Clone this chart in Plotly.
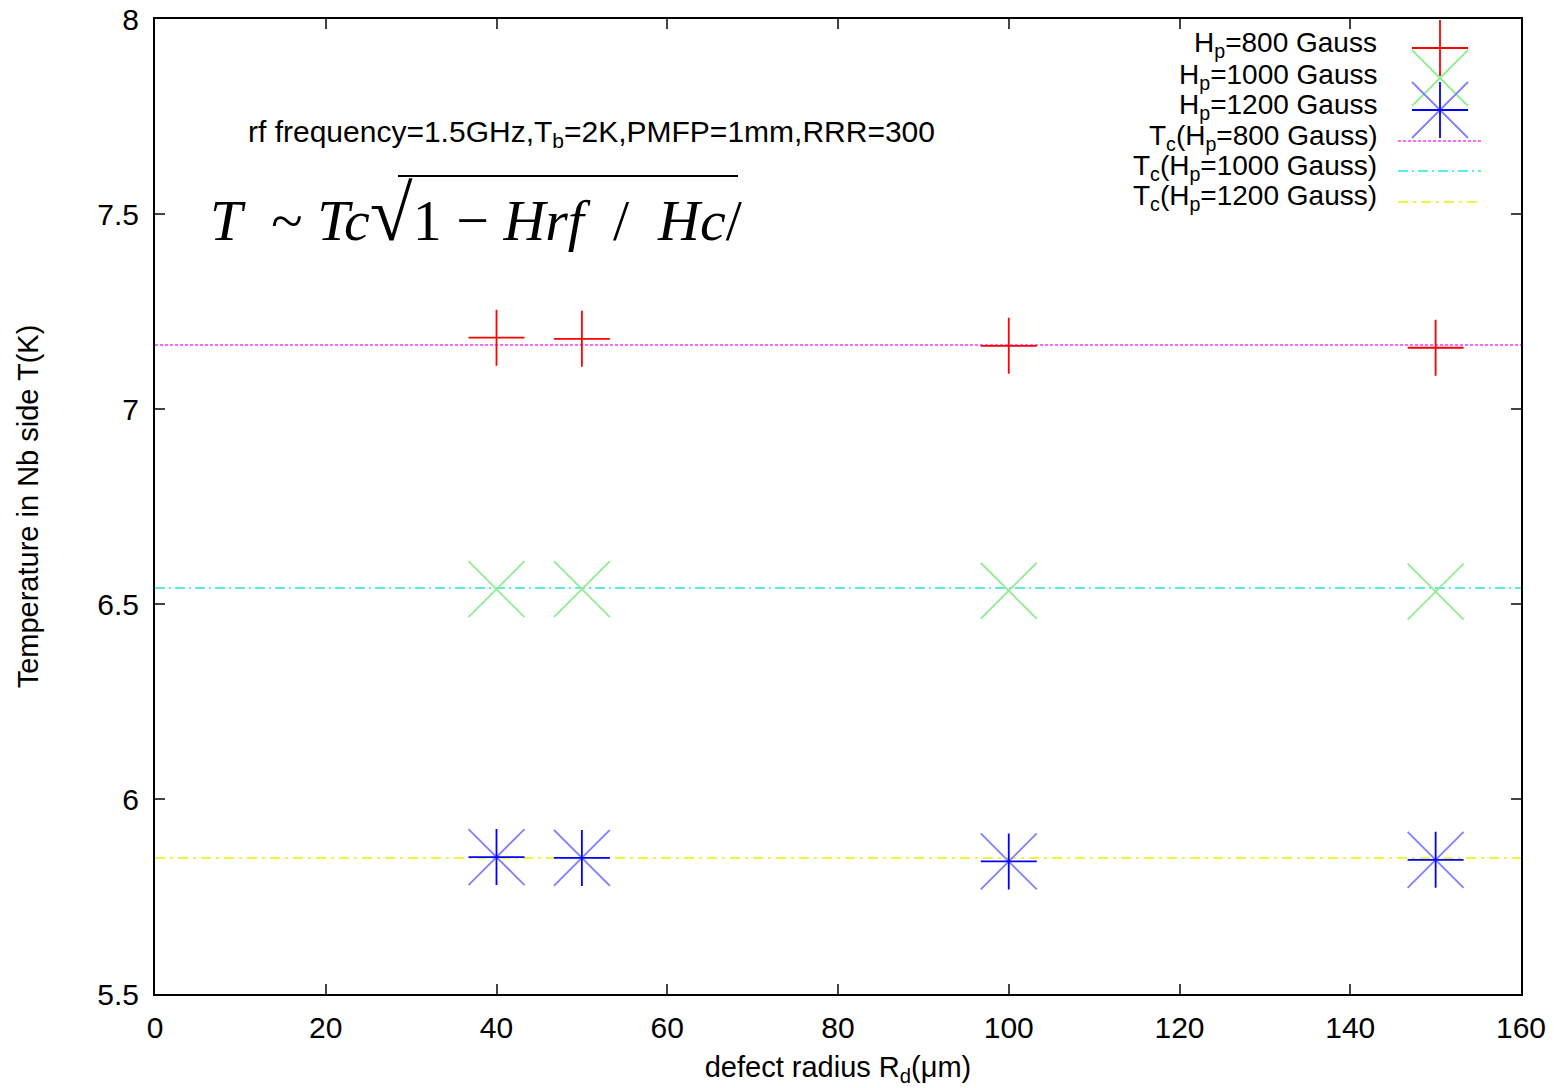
import plotly.graph_objects as go

# ---- data ----
radius = [40, 50, 100, 150]
t_800 = [7.183, 7.180, 7.162, 7.157]
t_1000 = [6.538, 6.538, 6.534, 6.532]
t_1200 = [5.851, 5.849, 5.840, 5.844]
tc_800 = 7.164
tc_1000 = 6.541
tc_1200 = 5.849
x_range = [0, 160]
y_range = [5.5, 8]
x_ticks = [0, 20, 40, 60, 80, 100, 120, 140, 160]
y_ticks = [5.5, 6, 6.5, 7, 7.5, 8]

W, H = 1559, 1088
L, R, T, B = 155, 38, 19, 94
PW, PH = W - L - R, H - T - B


def px(x):
    return (x - L) / PW


def py(y):
    return (H - B - y) / PH


FONT = "Liberation Sans, Arial, sans-serif"

fig = go.Figure()

# Tc lines
fig.add_trace(go.Scatter(x=x_range, y=[tc_800, tc_800], mode="lines",
                         line=dict(color="#ff33ff", width=1.5, dash="3px,2px"), hoverinfo="skip"))
fig.add_trace(go.Scatter(x=x_range, y=[tc_1000, tc_1000], mode="lines",
                         line=dict(color="#22e6e6", width=1.5, dash="10px,4px,2px,4px"), hoverinfo="skip"))
fig.add_trace(go.Scatter(x=x_range, y=[tc_1200, tc_1200], mode="lines",
                         line=dict(color="#f0f000", width=1.5, dash="10px,5px,3px,5px"), hoverinfo="skip"))

# points
fig.add_trace(go.Scatter(x=radius, y=t_800, mode="markers",
                         marker=dict(symbol="cross-thin", size=40, line=dict(color="#ff0000", width=1.8))))
fig.add_trace(go.Scatter(x=radius, y=t_1000, mode="markers",
                         marker=dict(symbol="x-thin", size=56, line=dict(color="#90ee90", width=1.8))))
fig.add_trace(go.Scatter(x=radius, y=t_1200, mode="markers",
                         marker=dict(symbol="x-thin", size=56, line=dict(color="#8080ff", width=1.8))))
fig.add_trace(go.Scatter(x=radius, y=t_1200, mode="markers",
                         marker=dict(symbol="cross-thin", size=40, line=dict(color="#0000ff", width=1.8))))

shapes = []
annotations = []

# manual legend (gnuplot style: text right-aligned, sample to the right)
legend_texts = [
    "H<sub>p</sub>=800 Gauss",
    "H<sub>p</sub>=1000 Gauss",
    "H<sub>p</sub>=1200 Gauss",
    "T<sub>c</sub>(H<sub>p</sub>=800 Gauss)",
    "T<sub>c</sub>(H<sub>p</sub>=1000 Gauss)",
    "T<sub>c</sub>(H<sub>p</sub>=1200 Gauss)",
]
row_y = [45, 76, 106, 137, 168, 198]
for txt, yy in zip(legend_texts, row_y):
    annotations.append(dict(x=px(1379), y=py(yy), xref="paper", yref="paper", text=txt,
                            showarrow=False, xanchor="right", yanchor="middle",
                            font=dict(family=FONT, size=28, color="black")))


def seg(x0, y0, x1, y1, color, width=1.8, dash="solid"):
    shapes.append(dict(type="line", xref="paper", yref="paper", x0=px(x0), y0=py(y0),
                       x1=px(x1), y1=py(y1), line=dict(color=color, width=width, dash=dash)))


cx = 1440
# red +
seg(cx - 28, 48, cx + 28, 48, "#ff0000"); seg(cx, 20, cx, 76, "#ff0000")
# green x
seg(cx - 28, 50, cx + 28, 106, "#90ee90"); seg(cx - 28, 106, cx + 28, 50, "#90ee90")
# blue star
seg(cx - 28, 82, cx + 28, 138, "#8080ff"); seg(cx - 28, 138, cx + 28, 82, "#8080ff")
seg(cx - 28, 110, cx + 28, 110, "#0000ff"); seg(cx, 82, cx, 138, "#0000ff")
# line samples
seg(1398, 141, 1483, 141, "#ff33ff", 1.5, "3px,2px")
seg(1398, 171, 1481, 171, "#22e6e6", 1.5, "10px,4px,2px,4px")
seg(1398, 202, 1480, 202, "#f0f000", 1.5, "10px,5px,3px,5px")

# parameters text
annotations.append(dict(x=px(591), y=py(133), xref="paper", yref="paper",
                        text="rf frequency=1.5GHz,T<sub>b</sub>=2K,PMFP=1mm,RRR=300",
                        showarrow=False, xanchor="center", yanchor="middle",
                        font=dict(family="Liberation Sans Narrow, Arial Narrow, Liberation Sans, sans-serif",
                                  size=30, color="black")))
# formula
annotations.append(dict(x=px(208), y=py(214), xref="paper", yref="paper",
                        text="<i>T</i>  ~ <i>Tc</i><span style='font-size:78px'>√</span>1 − <i>Hrf</i>  /  <i>Hc</i>/",
                        showarrow=False, xanchor="left", yanchor="middle",
                        font=dict(family="Liberation Serif, Times New Roman, serif", size=58, color="black")))
seg(398, 176, 738, 176, "black", 2)

fig.update_layout(
    width=W, height=H,
    margin=dict(l=L, r=R, t=T, b=B, autoexpand=False),
    paper_bgcolor="white", plot_bgcolor="white",
    showlegend=False,
    shapes=shapes, annotations=annotations,
    font=dict(family=FONT, color="black"),
)
fig.update_xaxes(range=x_range, tickvals=x_ticks, ticks="inside", ticklen=10, tickwidth=1.5,
                 showline=True, linecolor="black", linewidth=2, mirror="ticks", showgrid=False,
                 zeroline=False, tickfont=dict(family=FONT, size=30), ticklabelstandoff=6,
                 automargin=False,
                 title=dict(text="defect radius R<sub>d</sub>(μm)", font=dict(family=FONT, size=29), standoff=14))
fig.update_yaxes(range=y_range, tickvals=y_ticks, ticks="inside", ticklen=10, tickwidth=1.5,
                 showline=True, linecolor="black", linewidth=2, mirror="ticks", showgrid=False,
                 zeroline=False, tickfont=dict(family=FONT, size=30), ticklabelstandoff=8,
                 automargin=False,
                 title=dict(text="Temperature in Nb side T(K)", font=dict(family=FONT, size=29), standoff=50))

fig.write_html("out.html")
